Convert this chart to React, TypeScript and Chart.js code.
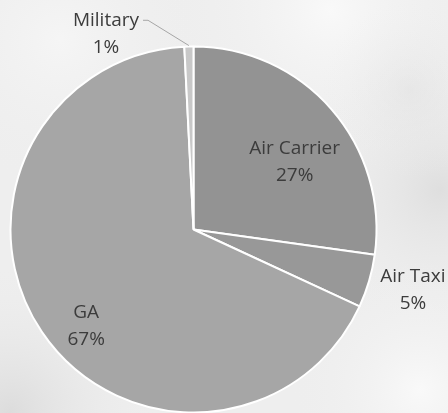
import React, { useEffect, useRef } from "react";
import { Chart, registerables } from "chart.js";

Chart.register(...registerables);

const categories = ["Air Carrier", "Air Taxi", "GA", "Military"];
const shares = [27.2, 4.7, 67.3, 0.8];
const sliceColors = ["#939393", "#989898", "#a6a6a6", "#c8c8c8"];

// label placement: radius factor and angular shift (deg) from slice middle
const labelRadius = [0.667, 1.243, 0.786, 1.174];
const labelShift = [7.0, -1.1, -7.7, -22.6];
const leaderFor = [false, false, false, true];

const backgroundPlugin = {
  id: "cloudBg",
  beforeDraw(chart: any) {
    const { ctx, width, height } = chart;
    ctx.save();
    ctx.fillStyle = "#eeeeee";
    ctx.fillRect(0, 0, width, height);
    const blob = (x: number, y: number, r: number, c: string) => {
      const g = ctx.createRadialGradient(x, y, 0, x, y, r);
      g.addColorStop(0, c);
      g.addColorStop(1, "rgba(238,238,238,0)");
      ctx.fillStyle = g;
      ctx.fillRect(0, 0, width, height);
    };
    blob(330, 10, 170, "rgba(250,250,250,0.9)");
    blob(60, 40, 150, "rgba(247,247,247,0.8)");
    blob(440, 190, 140, "rgba(210,210,210,0.55)");
    blob(410, 90, 90, "rgba(220,220,220,0.4)");
    blob(10, 413, 150, "rgba(205,205,205,0.55)");
    blob(420, 390, 130, "rgba(250,250,250,0.9)");
    ctx.restore();
  },
};

const labelPlugin = {
  id: "sliceLabels",
  afterDatasetsDraw(chart: any) {
    const { ctx } = chart;
    const meta = chart.getDatasetMeta(0);
    const data = chart.data.datasets[0].data as number[];
    const total = data.reduce((a: number, b: number) => a + b, 0);
    ctx.save();
    ctx.font = '19px "Open Sans"';
    ctx.fillStyle = "#3c3c3c";
    ctx.textAlign = "center";
    ctx.textBaseline = "alphabetic";
    meta.data.forEach((arc: any, i: number) => {
      const { x, y, startAngle, endAngle, outerRadius } = arc.getProps(
        ["x", "y", "startAngle", "endAngle", "outerRadius"],
        true
      );
      const mid = (startAngle + endAngle) / 2 + (labelShift[i] * Math.PI) / 180;
      const r = outerRadius * labelRadius[i];
      const lx = x + Math.cos(mid) * r;
      const ly = y + Math.sin(mid) * r;
      const pct = Math.round((data[i] / total) * 100) + "%";
      ctx.fillText(chart.data.labels[i], lx, ly - 7);
      ctx.fillText(pct, lx, ly + 20);
      if (leaderFor[i]) {
        const w = ctx.measureText(chart.data.labels[i]).width;
        const sx = lx + w / 2 + 4;
        const sy = ly - 13;
        const am = (startAngle + endAngle) / 2;
        const ex = x + Math.cos(am) * (outerRadius + 1);
        const ey = y + Math.sin(am) * (outerRadius + 1);
        ctx.strokeStyle = "#a6a6a6";
        ctx.lineWidth = 1;
        ctx.beginPath();
        ctx.moveTo(sx, sy);
        ctx.lineTo(sx + 5, sy);
        ctx.lineTo(ex, ey);
        ctx.stroke();
      }
    });
    ctx.restore();
  },
};

export default function App() {
  const ref = useRef<HTMLCanvasElement>(null);
  useEffect(() => {
    document.body.style.margin = "0";
    const chart = new Chart(ref.current!, {
      type: "pie",
      data: {
        labels: categories,
        datasets: [
          {
            data: shares,
            backgroundColor: sliceColors,
            borderColor: "#ffffff",
            borderWidth: 2,
            radius: 183,
            clip: false,
          } as any,
        ],
      },
      options: {
        animation: false,
        responsive: false,
        layout: { padding: { left: 0, right: 61, top: 46, bottom: 0 } },
        plugins: { legend: { display: false }, tooltip: { enabled: false } },
      },
      plugins: [backgroundPlugin, labelPlugin],
    });
    return () => chart.destroy();
  }, []);
  return (
    <div style={{ width: 448, height: 413, overflow: "hidden" }}>
      <canvas ref={ref} width={448} height={413} style={{ display: "block" }} />
    </div>
  );
}
